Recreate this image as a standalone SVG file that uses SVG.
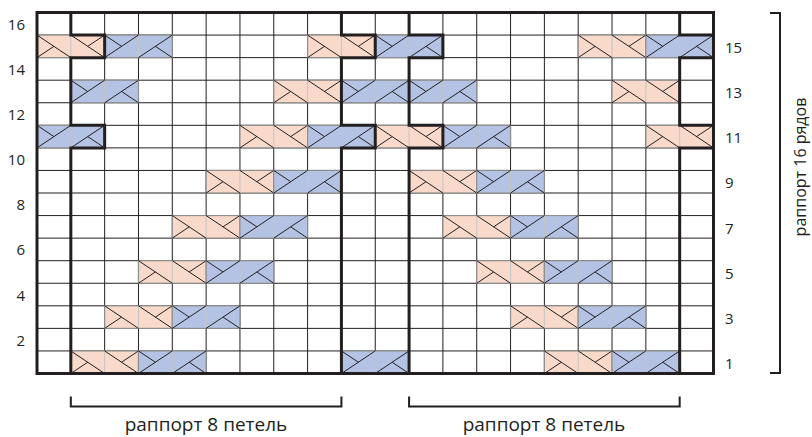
<svg xmlns="http://www.w3.org/2000/svg" xmlns:xlink="http://www.w3.org/1999/xlink" width="812" height="437" viewBox="0 0 812 437">
<style>
.grid line{stroke:#231f20;stroke-width:1}
.sym rect{stroke:#8f8f8f;stroke-width:1.2}
.sym line{stroke:#231f20;stroke-width:1}
.sym line.div{stroke:#c4c4c4}
.thick{fill:none;stroke:#231f20;stroke-width:3;stroke-linejoin:miter}
.lab{font-family:"Open Sans","Noto Sans","Liberation Sans",sans-serif;font-size:15px;fill:#231f20}
.cap{font-family:"Open Sans","Noto Sans","Liberation Sans",sans-serif;fill:#231f20}
.br{fill:none;stroke:#231f20;stroke-width:2}
</style>
<defs>
<g id="pink" class="sym">
<rect x="0" y="0" width="67.65" height="22.5625" fill="#f9d9c9"/>
<line class="div" x1="33.825" y1="0.6" x2="33.825" y2="21.9"/>
<line x1="0" y1="0" x2="33.825" y2="22.5625"/>
<line x1="33.825" y1="0" x2="67.65" y2="22.5625"/>
<line x1="0" y1="22.5625" x2="16.9125" y2="11.28"/>
<line x1="50.7375" y1="11.28" x2="67.65" y2="0"/>
</g>
<g id="blue" class="sym">
<rect x="0" y="0" width="67.65" height="22.5625" fill="#b4c3e4"/>
<line class="div" x1="33.825" y1="0.6" x2="33.825" y2="21.9"/>
<line x1="0" y1="22.5625" x2="33.825" y2="0"/>
<line x1="33.825" y1="22.5625" x2="67.65" y2="0"/>
<line x1="0" y1="0" x2="16.9125" y2="11.28"/>
<line x1="50.7375" y1="11.28" x2="67.65" y2="22.5625"/>
</g>
</defs>
<rect x="0" y="0" width="812" height="437" fill="#ffffff"/>
<g id="grid" class="grid">
<line x1="70.825" y1="12.5" x2="70.825" y2="373.5"/>
<line x1="104.65" y1="12.5" x2="104.65" y2="373.5"/>
<line x1="138.475" y1="12.5" x2="138.475" y2="373.5"/>
<line x1="172.3" y1="12.5" x2="172.3" y2="373.5"/>
<line x1="206.125" y1="12.5" x2="206.125" y2="373.5"/>
<line x1="239.95" y1="12.5" x2="239.95" y2="373.5"/>
<line x1="273.775" y1="12.5" x2="273.775" y2="373.5"/>
<line x1="307.6" y1="12.5" x2="307.6" y2="373.5"/>
<line x1="341.425" y1="12.5" x2="341.425" y2="373.5"/>
<line x1="375.25" y1="12.5" x2="375.25" y2="373.5"/>
<line x1="409.075" y1="12.5" x2="409.075" y2="373.5"/>
<line x1="442.9" y1="12.5" x2="442.9" y2="373.5"/>
<line x1="476.725" y1="12.5" x2="476.725" y2="373.5"/>
<line x1="510.55" y1="12.5" x2="510.55" y2="373.5"/>
<line x1="544.375" y1="12.5" x2="544.375" y2="373.5"/>
<line x1="578.2" y1="12.5" x2="578.2" y2="373.5"/>
<line x1="612.025" y1="12.5" x2="612.025" y2="373.5"/>
<line x1="645.85" y1="12.5" x2="645.85" y2="373.5"/>
<line x1="679.675" y1="12.5" x2="679.675" y2="373.5"/>
<line x1="37" y1="350.9375" x2="713.5" y2="350.9375"/>
<line x1="37" y1="328.375" x2="713.5" y2="328.375"/>
<line x1="37" y1="305.8125" x2="713.5" y2="305.8125"/>
<line x1="37" y1="283.25" x2="713.5" y2="283.25"/>
<line x1="37" y1="260.6875" x2="713.5" y2="260.6875"/>
<line x1="37" y1="238.125" x2="713.5" y2="238.125"/>
<line x1="37" y1="215.5625" x2="713.5" y2="215.5625"/>
<line x1="37" y1="193" x2="713.5" y2="193"/>
<line x1="37" y1="170.4375" x2="713.5" y2="170.4375"/>
<line x1="37" y1="147.875" x2="713.5" y2="147.875"/>
<line x1="37" y1="125.3125" x2="713.5" y2="125.3125"/>
<line x1="37" y1="102.75" x2="713.5" y2="102.75"/>
<line x1="37" y1="80.1875" x2="713.5" y2="80.1875"/>
<line x1="37" y1="57.625" x2="713.5" y2="57.625"/>
<line x1="37" y1="35.0625" x2="713.5" y2="35.0625"/>
</g>
<g id="cables">
<use xlink:href="#pink" x="70.825" y="350.9375"/>
<use xlink:href="#blue" x="138.475" y="350.9375"/>
<use xlink:href="#blue" x="341.425" y="350.9375"/>
<use xlink:href="#pink" x="544.375" y="350.9375"/>
<use xlink:href="#blue" x="612.025" y="350.9375"/>

<use xlink:href="#pink" x="104.65" y="305.8125"/>
<use xlink:href="#blue" x="172.3" y="305.8125"/>
<use xlink:href="#pink" x="510.55" y="305.8125"/>
<use xlink:href="#blue" x="578.2" y="305.8125"/>

<use xlink:href="#pink" x="138.475" y="260.6875"/>
<use xlink:href="#blue" x="206.125" y="260.6875"/>
<use xlink:href="#pink" x="476.725" y="260.6875"/>
<use xlink:href="#blue" x="544.375" y="260.6875"/>

<use xlink:href="#pink" x="172.3" y="215.5625"/>
<use xlink:href="#blue" x="239.95" y="215.5625"/>
<use xlink:href="#pink" x="442.9" y="215.5625"/>
<use xlink:href="#blue" x="510.55" y="215.5625"/>

<use xlink:href="#pink" x="206.125" y="170.4375"/>
<use xlink:href="#blue" x="273.775" y="170.4375"/>
<use xlink:href="#pink" x="409.075" y="170.4375"/>
<use xlink:href="#blue" x="476.725" y="170.4375"/>

<use xlink:href="#blue" x="37" y="125.3125"/>
<use xlink:href="#pink" x="239.95" y="125.3125"/>
<use xlink:href="#blue" x="307.6" y="125.3125"/>
<use xlink:href="#pink" x="375.25" y="125.3125"/>
<use xlink:href="#blue" x="442.9" y="125.3125"/>
<use xlink:href="#pink" x="645.85" y="125.3125"/>

<use xlink:href="#blue" x="70.825" y="80.1875"/>
<use xlink:href="#pink" x="273.775" y="80.1875"/>
<use xlink:href="#blue" x="341.425" y="80.1875"/>
<use xlink:href="#blue" x="409.075" y="80.1875"/>
<use xlink:href="#pink" x="612.025" y="80.1875"/>

<use xlink:href="#pink" x="37" y="35.0625"/>
<use xlink:href="#blue" x="104.65" y="35.0625"/>
<use xlink:href="#pink" x="307.6" y="35.0625"/>
<use xlink:href="#blue" x="375.25" y="35.0625"/>
<use xlink:href="#pink" x="578.2" y="35.0625"/>
<use xlink:href="#blue" x="645.85" y="35.0625"/>
</g>
<g id="repeat-lines">
<path class="thick" d="M70.825 12.5V35.0625H104.65V57.625H70.825V125.3125H104.65V147.875H70.825V373.5"/>
<path class="thick" d="M341.425 12.5V35.0625H375.25V57.625H341.425V125.3125H375.25V147.875H341.425V373.5"/>
<path class="thick" d="M409.075 12.5V35.0625H442.9V57.625H409.075V125.3125H442.9V147.875H409.075V373.5"/>
<path class="thick" d="M679.675 12.5V35.0625H713.5V57.625H679.675V125.3125H713.5V147.875H679.675V373.5"/>
<rect class="thick" x="37" y="12.5" width="676.5" height="361"/>
</g>
<g id="row-labels-left" class="lab" text-anchor="end">
<text x="25" y="29.8">16</text>
<text x="25" y="74.9">14</text>
<text x="25" y="120.05">12</text>
<text x="25" y="165.2">10</text>
<text x="25" y="210.3">8</text>
<text x="25" y="255.4">6</text>
<text x="25" y="300.55">4</text>
<text x="25" y="345.7">2</text>
</g>
<g id="row-labels-right" class="lab">
<text x="725" y="53">15</text>
<text x="725" y="98.2">13</text>
<text x="725" y="143.3">11</text>
<text x="725" y="188.4">9</text>
<text x="725" y="233.6">7</text>
<text x="725" y="278.7">5</text>
<text x="725" y="323.8">3</text>
<text x="725" y="368.9">1</text>
</g>
<g id="brackets">
<path class="br" d="M770 13H780V373H770"/>
<path class="br" d="M70.825 396.5V406.5H341.425V396.5"/>
<path class="br" d="M409.075 396.5V406.5H679.675V396.5"/>
</g>
<g id="captions" class="cap">
<text x="806" y="167" font-size="16" text-anchor="middle" transform="rotate(-90 806 167)">раппорт 16 рядов</text>
<text x="206" y="431" font-size="19" text-anchor="middle">раппорт 8 петель</text>
<text x="544" y="431" font-size="19" text-anchor="middle">раппорт 8 петель</text>
</g>
</svg>
